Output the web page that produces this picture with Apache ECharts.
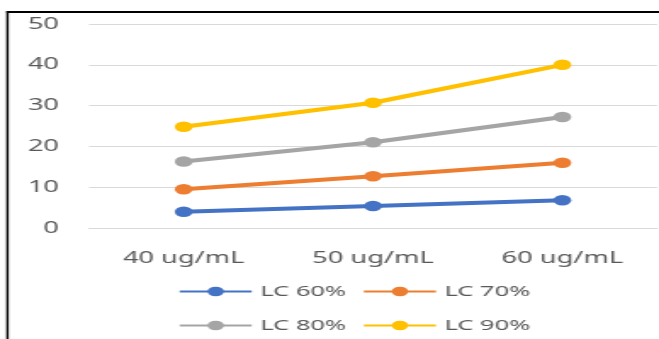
<!DOCTYPE html>
<html>
<head>
<meta charset="utf-8">
<script src="https://cdn.jsdelivr.net/npm/echarts@6/dist/echarts.min.js"></script>
<style>
  html, body { margin: 0; padding: 0; background: #ffffff; overflow: hidden; }
  #wrap { width: 659px; height: 339px; position: relative; overflow: hidden; }
  #chart { width: 388px; height: 339px; transform: scaleX(1.6985); transform-origin: 0 0; }
</style>
</head>
<body>
<div id="wrap"><div id="chart"></div></div>
<script>
// ---- data ----
var categories = ['40 ug/mL', '50 ug/mL', '60 ug/mL'];
var seriesNames = ['LC 60%', 'LC 70%', 'LC 80%', 'LC 90%'];
var lc60 = [4.0, 5.4, 6.8];
var lc70 = [9.5, 12.7, 16.0];
var lc80 = [16.3, 21.0, 27.2];
var lc90 = [24.8, 30.7, 40.0];
var yTicks = [0, 10, 20, 30, 40, 50];

var colors = ['#4472C4', '#ED7D31', '#A5A5A5', '#FFC000'];
var values = [lc60, lc70, lc80, lc90];
var SX = 659 / 388;
var font = '"Noto Sans", "DejaVu Sans", sans-serif';

var chart = echarts.init(document.getElementById('chart'), null, { renderer: 'canvas' });

var series = seriesNames.map(function (n, i) {
  return {
    name: n,
    type: 'line',
    data: values[i],
    symbol: 'circle',
    symbolSize: 10.5,
    showSymbol: true,
    lineStyle: { width: 4, color: colors[i] },
    itemStyle: { color: colors[i] },
    emphasis: { disabled: true },
    animation: false,
    z: 3 + i
  };
});

function legendRow(names, top) {
  return {
    data: names,
    orient: 'horizontal',
    left: 178 / SX,
    top: top,
    itemWidth: 72 / SX,
    itemHeight: 12,
    itemGap: 9.5,
    padding: 0,
    textStyle: { fontFamily: font, fontSize: 15, color: '#595959' }
  };
}

chart.setOption({
  backgroundColor: '#ffffff',
  animation: false,
  color: colors,
  grid: { left: 89 / SX, right: 2 / SX, top: 24, bottom: 339 - 228, containLabel: false },
  xAxis: {
    type: 'category',
    data: categories,
    boundaryGap: true,
    axisLine: { show: true, lineStyle: { color: '#D9D9D9', width: 1 } },
    axisTick: { show: false },
    axisLabel: { fontFamily: font, fontSize: 16, color: '#595959', margin: 22 },
    splitLine: { show: false }
  },
  yAxis: {
    type: 'value',
    min: yTicks[0],
    max: yTicks[yTicks.length - 1],
    interval: yTicks[1] - yTicks[0],
    axisLine: { show: false },
    axisTick: { show: false },
    axisLabel: { fontFamily: font, fontSize: 16, color: '#595959', margin: 30 / SX },
    splitLine: { show: true, lineStyle: { color: '#D9D9D9', width: 1 } }
  },
  legend: [
    legendRow([seriesNames[0], seriesNames[1]], 284),
    legendRow([seriesNames[2], seriesNames[3]], 318)
  ],
  graphic: [
    { type: 'line', shape: { x1: 7.5 / SX, y1: 11, x2: 7.5 / SX, y2: 339 }, style: { stroke: '#000000', lineWidth: 2.4 / SX }, silent: true },
    { type: 'line', shape: { x1: 6.5 / SX, y1: 12, x2: 400, y2: 12 }, style: { stroke: '#000000', lineWidth: 2.2 }, silent: true }
  ],
  series: series
});
</script>
</body>
</html>
